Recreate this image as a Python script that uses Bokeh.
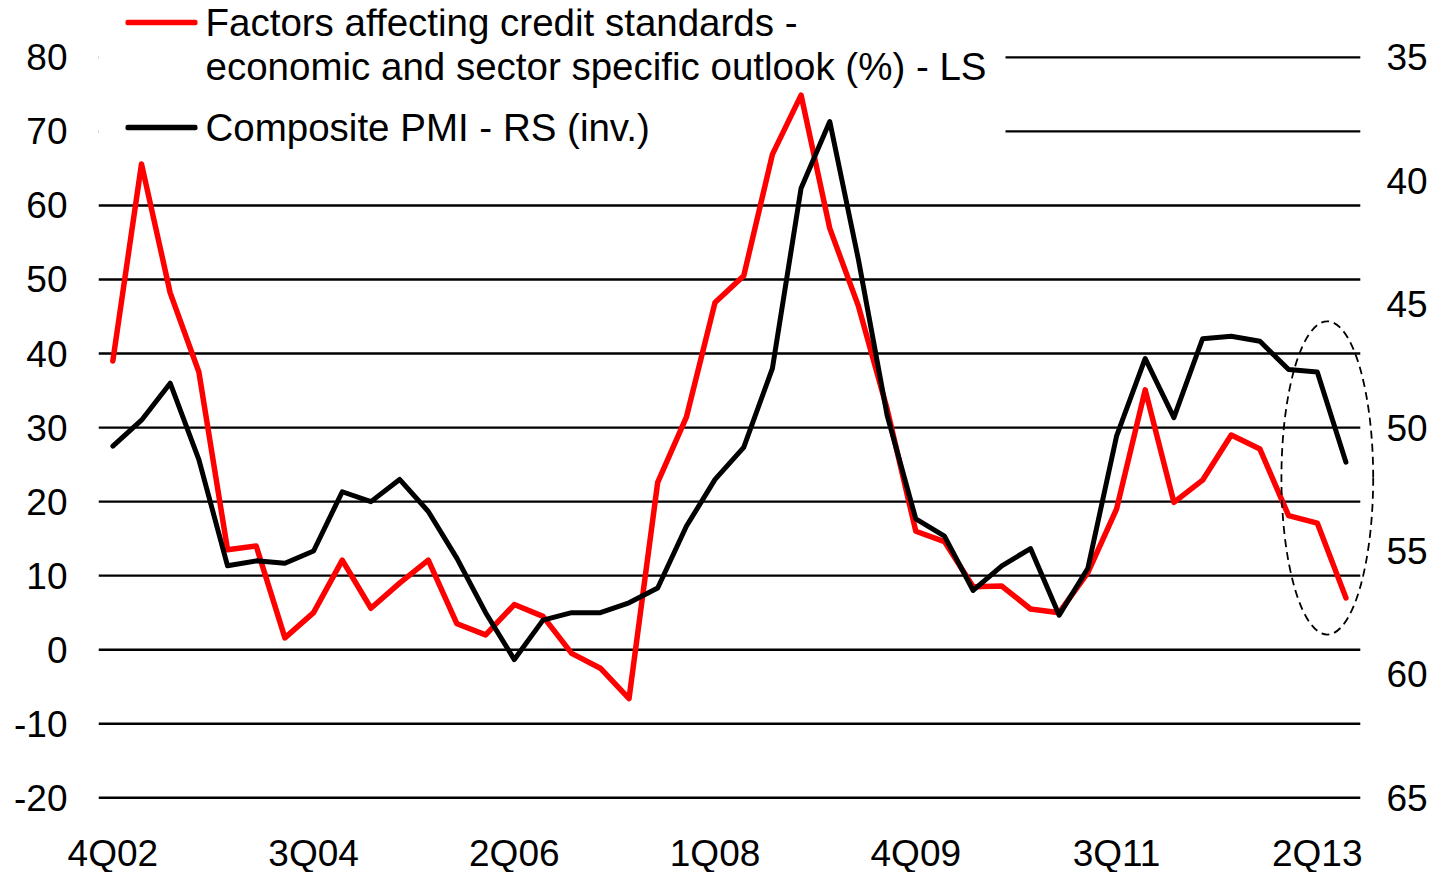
from bokeh.plotting import figure
from bokeh.models import Range1d, LinearAxis, FixedTicker, BoxAnnotation, Label
from bokeh.embed import file_html
from bokeh.resources import INLINE

# ---------------- data ----------------
quarters = ["4Q02", "1Q03", "2Q03", "3Q03", "4Q03", "1Q04", "2Q04", "3Q04", "4Q04",
            "1Q05", "2Q05", "3Q05", "4Q05", "1Q06", "2Q06", "3Q06", "4Q06", "1Q07",
            "2Q07", "3Q07", "4Q07", "1Q08", "2Q08", "3Q08", "4Q08", "1Q09", "2Q09",
            "3Q09", "4Q09", "1Q10", "2Q10", "3Q10", "4Q10", "1Q11", "2Q11", "3Q11",
            "4Q11", "1Q12", "2Q12", "3Q12", "4Q12", "1Q13", "2Q13", "3Q13"]

credit_factors = [39.0, 65.6, 48.2, 37.5, 13.5, 14.0, 1.6, 5.0, 12.1, 5.6,
                  9.0, 12.1, 3.5, 2.0, 6.1, 4.5, -0.5, -2.5, -6.6, 22.6,
                  31.4, 46.9, 50.5, 66.9, 74.9, 56.9, 46.4, 32.5, 16.0, 14.6,
                  8.5, 8.6, 5.5, 5.0, 10.4, 19.0, 35.1, 19.9, 22.9, 29.0,
                  27.1, 18.1, 17.1, 7.0]

composite_pmi = [50.75, 49.7, 48.2, 51.3, 55.6, 55.4, 55.5, 55.0, 52.6, 53.0,
                 52.1, 53.4, 55.3, 57.5, 59.4, 57.8, 57.5, 57.5, 57.1, 56.5,
                 54.0, 52.1, 50.8, 47.6, 40.3, 37.6, 43.2, 49.5, 53.7, 54.4,
                 56.6, 55.6, 54.9, 57.6, 55.7, 50.35, 47.2, 49.6, 46.4, 46.3,
                 46.5, 47.65, 47.75, 51.4]

left_ticks = [-20, -10, 0, 10, 20, 30, 40, 50, 60, 70, 80]
left_tick_labels = ["-20", "-10", "0", "10", "20", "30", "40", "50", "60", "70", "80"]
right_ticks = [35, 40, 45, 50, 55, 60, 65]
label_step = 7

x = list(range(len(quarters)))

# ---------------- layout constants ----------------
FONT = "Liberation Sans"
FRAME_W, FRAME_H = 1279, 793
X_START, X_END = -0.5, 44.1
L_START, L_END = -20.5, 86.6


def to_pmi(v):
    # left 80 <-> right 35, left -20 <-> right 65 (inverted)
    return 35 + (80 - v) * 0.3


p = figure(frame_width=FRAME_W, frame_height=FRAME_H,
           x_range=Range1d(X_START, X_END),
           y_range=Range1d(L_START, L_END),
           output_backend="svg", toolbar_location=None,
           min_border_left=98, min_border_right=63,
           min_border_top=8, min_border_bottom=71)
p.outline_line_color = None
p.background_fill_color = "white"
p.border_fill_color = "white"

p.extra_y_ranges = {"pmi": Range1d(to_pmi(L_START), to_pmi(L_END))}

# left axis
la = p.yaxis[0]
la.ticker = FixedTicker(ticks=left_ticks)
la.major_label_overrides = dict(zip(left_ticks, left_tick_labels))
# bottom axis
xa = p.xaxis[0]
xa.ticker = FixedTicker(ticks=x[::label_step])
xa.major_label_overrides = {i: quarters[i] for i in x[::label_step]}
# right axis
ra = LinearAxis(y_range_name="pmi", ticker=FixedTicker(ticks=right_ticks))
p.add_layout(ra, "right")

for ax, standoff in ((la, 25), (ra, 3), (xa, 25)):
    ax.axis_line_color = None
    ax.major_tick_line_color = None
    ax.minor_tick_line_color = None
    ax.major_label_text_font = FONT
    ax.major_label_text_font_size = "37px"
    ax.major_label_text_color = "black"
    ax.major_label_standoff = standoff

p.xgrid.grid_line_color = None
p.ygrid.grid_line_color = None

# horizontal gridlines spanning the category area only
n = len(left_ticks)
p.segment(x0=[x[0] - 0.5] * n, x1=[x[-1] + 0.5] * n, y0=left_ticks, y1=left_ticks,
          line_color="black", line_width=2.4, level="underlay")

# legend background (covers gridlines, under data lines)
legend_bg = BoxAnnotation(left=0, right=907, bottom=636, top=FRAME_H,
                          left_units="screen", right_units="screen",
                          bottom_units="screen", top_units="screen",
                          fill_color="white", fill_alpha=1.0,
                          line_color=None, level="underlay")
p.add_layout(legend_bg)

# series
p.line(x, credit_factors, line_color="#FF0000", line_width=5.5, line_join="round",
       line_cap="round")
p.line(x, composite_pmi, line_color="black", line_width=5, line_join="round",
       line_cap="round", y_range_name="pmi")

# highlight ellipse around latest observations
p.ellipse(x=[42.35], y=[23.2], width=3.2, height=42.3, fill_alpha=0,
          line_color="black", line_width=1.8, line_dash="8 5")

# manual legend
for (yc, col) in ((779, "#FF0000"), (674, "black")):
    p.add_layout(BoxAnnotation(left=27, right=99, bottom=yc - 2.75, top=yc + 2.75,
                               left_units="screen", right_units="screen",
                               bottom_units="screen", top_units="screen",
                               fill_color=col, fill_alpha=1.0, line_color=None,
                               border_radius=2))

legend_lines = [("Factors affecting credit standards -", 779),
                ("economic and sector specific outlook (%) - LS", 735),
                ("Composite PMI - RS (inv.)", 674)]
for txt, yb in legend_lines:
    p.add_layout(Label(x=107, y=yb, x_units="screen", y_units="screen", text=txt,
                       text_font=FONT, text_font_size="38.5px",
                       text_color="black", text_baseline="alphabetic",
                       text_align="left"))

open("out.html", "w").write(file_html(p, INLINE))
